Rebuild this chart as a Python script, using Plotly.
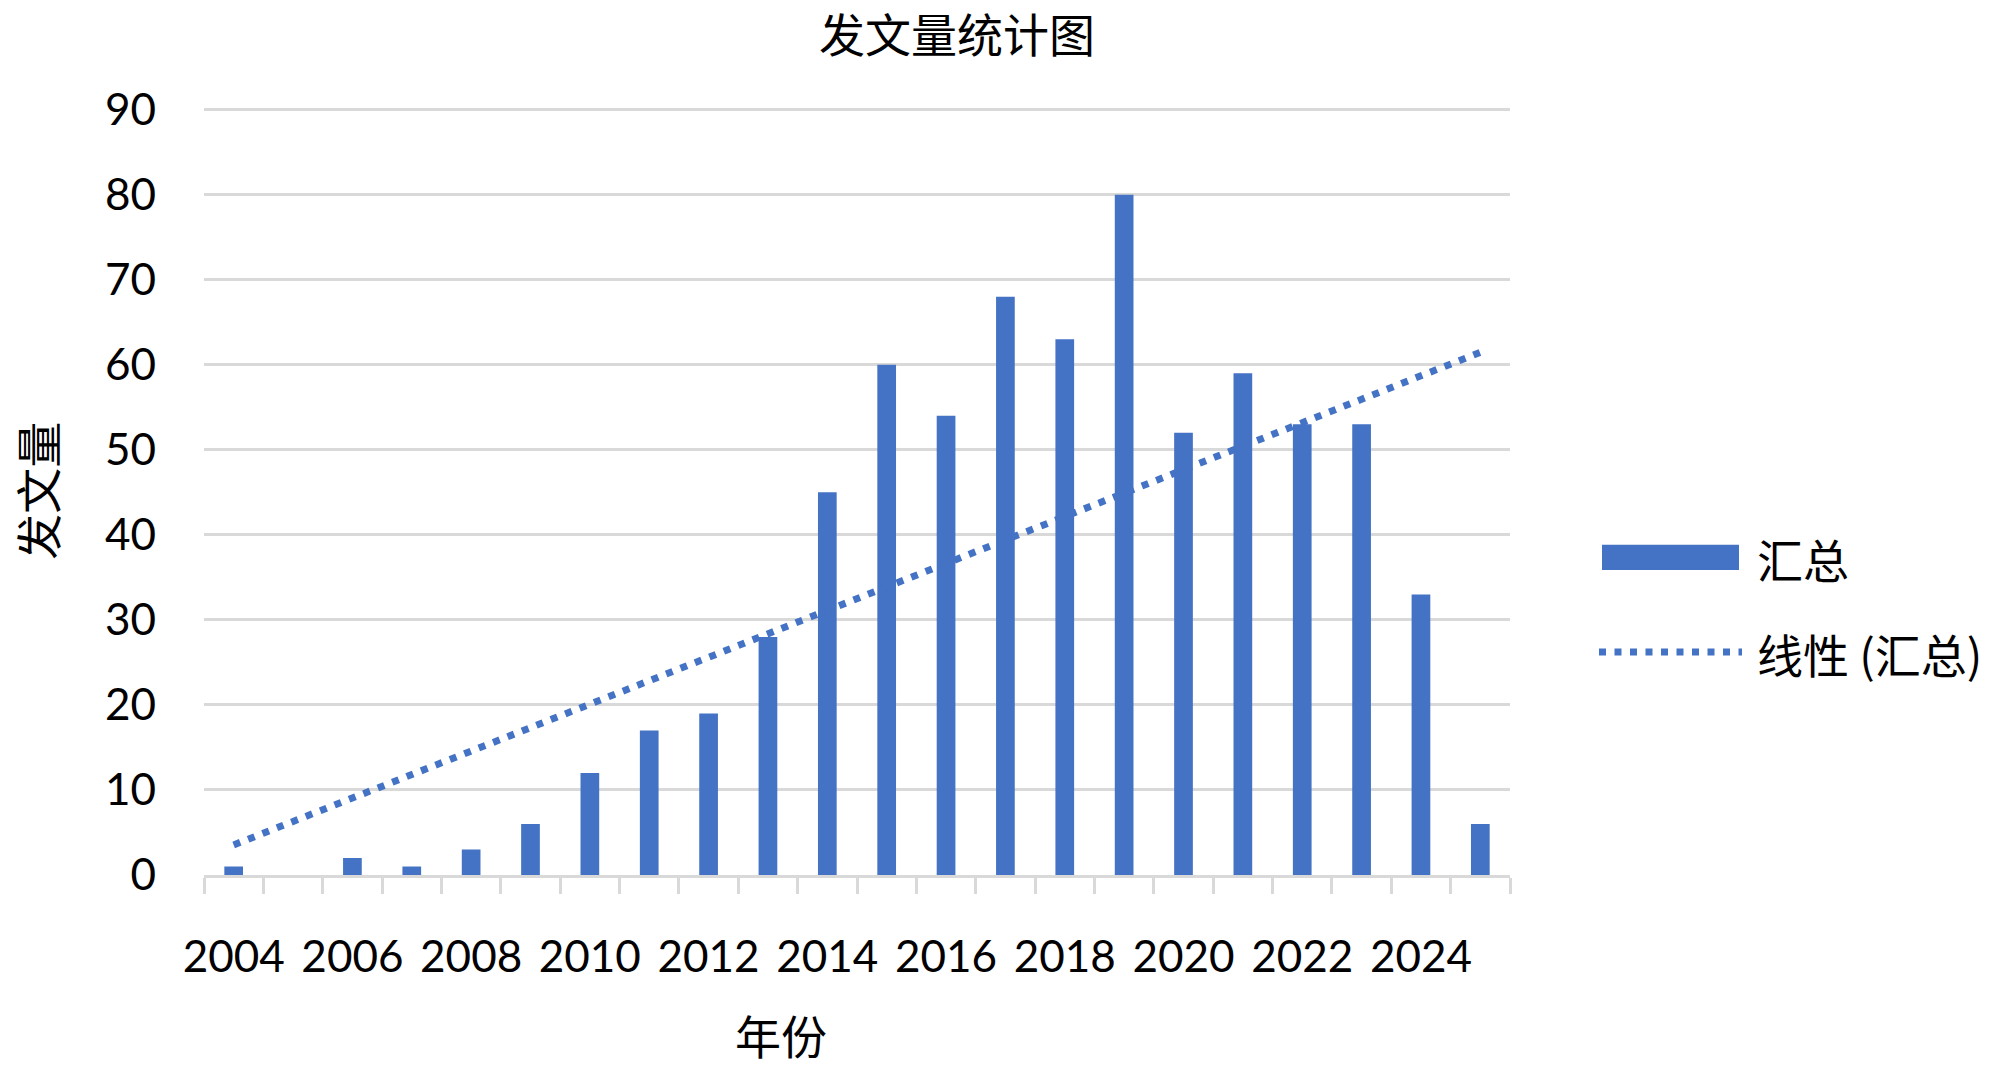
import numpy as np
import plotly.graph_objects as go

years = [str(y) for y in range(2004, 2026)]
counts = [1, 0, 2, 1, 3, 6, 12, 17, 19, 28, 45, 60, 54, 68, 63, 80, 52, 59, 53, 53, 33, 6]
tick_text = [y if (int(y) - 2004) % 2 == 0 else "" for y in years]

series_name = "汇总"
trend_name = "线性 (汇总)"
title_text = "发文量统计图"
x_title = "年份"
y_title = "发文量"

BLUE = "#4472C4"
GRID = "#d9d9d9"
CJK = "Noto Sans CJK SC"
NUM = "Lato"

# page body has an 8px default margin: size the figure to fit the window
OFF = 8
W, H = 2000 - OFF, 1070 - OFF
# plot area in page pixels: x 204..1510, y 110 (value 90) .. 875 (value 0)
PX0, PX1, PY_TOP, PY_BOT = 204, 1510, 110, 875
YMAX = 90.2
ppu = (PY_BOT - PY_TOP) / 90.0
L = PX0 - OFF
R = W - (PX1 - OFF)
B = H - (PY_BOT - OFF)
T = (PY_TOP - OFF) - (YMAX - 90) * ppu
PW, PH = W - L - R, H - T - B


def px(x):
    return (x - OFF - L) / PW


def py(y):
    return (H - B - (y - OFF)) / PH


# Linear trendline (least squares, as in Excel's linear trendline)
idx = np.arange(len(counts))
slope, intercept = np.polyfit(idx, counts, 1)
trend = (slope * idx + intercept).tolist()

fig = go.Figure()
fig.add_trace(go.Bar(x=years, y=counts, name=series_name, marker_color=BLUE,
                     marker_line_width=0, showlegend=False))
fig.add_trace(go.Scatter(x=years, y=trend, mode="lines", name=trend_name, showlegend=False,
                         line=dict(color=BLUE, width=7, dash="7px,8.5px")))

# Legend drawn as shapes + text (wide Excel-style swatches)
shapes = [
    dict(type="rect", xref="paper", yref="paper", x0=px(1602), x1=px(1739),
         y0=py(570), y1=py(545), fillcolor=BLUE, line=dict(width=0)),
    dict(type="line", xref="paper", yref="paper", x0=px(1599), x1=px(1742),
         y0=py(652), y1=py(652), line=dict(color=BLUE, width=7, dash="7px,8.5px")),
]
annotations = [
    dict(text=series_name, xref="paper", yref="paper", x=px(1755), y=py(558),
         xanchor="left", yanchor="middle", showarrow=False,
         font=dict(family=CJK, size=46, color="#000")),
    dict(text=trend_name, xref="paper", yref="paper", x=px(1755), y=py(653),
         xanchor="left", yanchor="middle", showarrow=False,
         font=dict(family=CJK, size=46, color="#000")),
    dict(text=x_title, xref="paper", yref="paper", x=px(781), y=py(1034),
         xanchor="center", yanchor="middle", showarrow=False,
         font=dict(family=CJK, size=46, color="#000")),
    dict(text=y_title, xref="paper", yref="paper", x=px(36), y=py(491),
         xanchor="center", yanchor="middle", showarrow=False, textangle=-90,
         font=dict(family=CJK, size=46, color="#000")),
]

fig.update_layout(
    width=W, height=H,
    paper_bgcolor="white", plot_bgcolor="white",
    margin=dict(l=L, r=R, t=T, b=B),
    bargap=0.685,
    showlegend=False,
    title=dict(text=title_text, font=dict(family=CJK, size=46, color="#000"),
               xref="container", yref="container", x=(957 - OFF) / W,
               y=1 - (36 - OFF) / H, xanchor="center", yanchor="middle"),
    font=dict(family=NUM, size=44, color="#000"),
    shapes=shapes,
    annotations=annotations,
    xaxis=dict(type="category", tickmode="array", tickvals=years, ticktext=tick_text,
               tickson="boundaries", ticks="outside", ticklen=16, tickwidth=3,
               tickcolor=GRID, showline=True, linecolor=GRID, linewidth=3,
               showgrid=False, tickangle=0, ticklabelstandoff=41,
               tickfont=dict(family=NUM, size=44)),
    yaxis=dict(range=[0, YMAX], tickmode="array", tickvals=list(range(0, 91, 10)),
               showgrid=True, gridcolor=GRID, gridwidth=3,
               zeroline=False, showline=False, ticks="", ticklabelstandoff=47,
               tickfont=dict(family=NUM, size=44)),
)

fig.write_html("out.html")
